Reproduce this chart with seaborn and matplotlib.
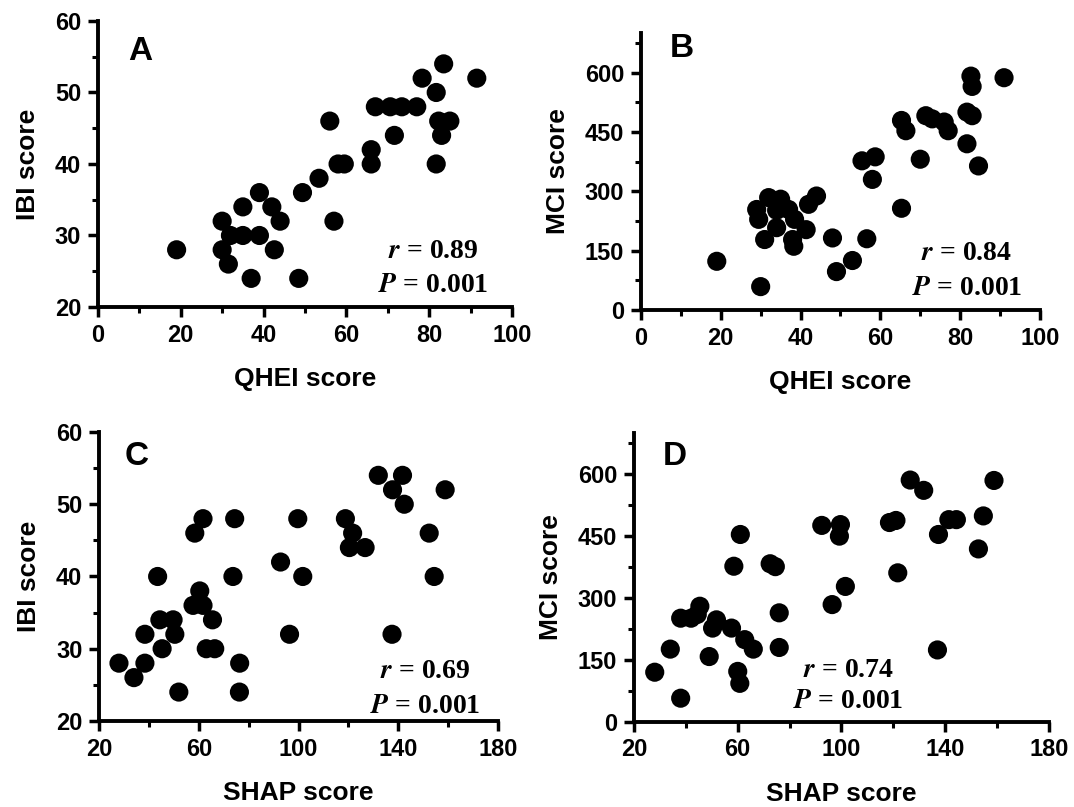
import numpy as np
import pandas as pd
import matplotlib
matplotlib.use("Agg")
import matplotlib.pyplot as plt
import seaborn as sns
from matplotlib.ticker import MultipleLocator, FixedLocator

# ---- data ----
# A: QHEI vs IBI
qhei_a = [19, 30, 30, 31.5, 32, 35, 35, 37, 39, 39, 42, 42.6, 44, 48.5, 49.4, 53.4,
          56, 57, 58, 59.5, 66, 66, 67, 70.6, 71.6, 73.4, 77, 78.3, 81.7, 81.7,
          82.3, 83, 83.5, 85, 91.5]
ibi_a = [28, 32, 28, 26, 30, 34, 30, 24, 36, 30, 34, 28, 32, 24, 36, 38,
         46, 32, 40, 40, 42, 40, 48, 48, 44, 48, 48, 52, 50, 40,
         46, 44, 54, 46, 52]

# B: QHEI vs MCI
qhei_b = [19, 30, 29, 29.5, 32, 31, 34, 35, 34, 37, 38.5, 38, 38.3, 41.4, 42, 44,
          48, 49, 53, 55.4, 56.6, 58.7, 58, 65.3, 66.4, 65.3, 70, 71.4, 73, 76,
          77, 81.7, 81.7, 83, 82.7, 83, 84.6, 91]
mci_b = [123, 59, 254, 229, 284, 178, 208, 280, 252, 254, 229, 178, 161, 203, 267, 288,
         182, 97, 125, 377, 180, 387, 330, 479, 453, 257, 381, 491, 483, 475,
         453, 420, 500, 491, 591, 565, 364, 587]

# C: SHAP vs IBI
shap_c = [28, 34, 38.4, 38.4, 43.5, 44.4, 45.3, 49.7, 50.4, 52, 57.7, 58.4, 60.4,
          61.7, 61.7, 63, 65.5, 66.4, 73.7, 74.4, 76.4, 76.3, 92.8, 96.4, 99.7,
          101.7, 118.8, 121.7, 120.4, 126.7, 132, 137.7, 137.5, 141.7, 142.4,
          152.4, 154.4, 158.8]
ibi_c = [28, 26, 28, 32, 40, 34, 30, 34, 32, 24, 36, 46, 38,
         48, 36, 30, 34, 30, 40, 48, 28, 24, 42, 32, 48,
         40, 48, 46, 44, 44, 54, 52, 32, 54, 50,
         46, 40, 52]

# D: SHAP vs MCI
shap_d = [28, 34, 38, 38, 42, 45.4, 44.4, 51.8, 50.3, 49, 57.6, 58.5, 60, 60.8,
          61, 62.7, 66, 72.5, 74.5, 76, 76, 92.4, 96.4, 99.6, 99.2, 101.5,
          118.5, 121, 121.7, 126.5, 131.7, 137, 137.4, 141.4, 144.3, 152.8,
          154.7, 158.8]
mci_d = [120, 176, 57, 251, 251, 280, 260, 247, 227, 158, 227, 377, 122, 93,
         454, 199, 176, 383, 376, 264, 180, 476, 284, 478, 450, 328,
         483, 488, 361, 586, 561, 174, 454, 490, 490, 419,
         499, 585]

stats_r = ["0.89", "0.84", "0.69", "0.74"]
panel_letters = ["A", "B", "C", "D"]
qhei_ticks = [0, 20, 40, 60, 80, 100]
shap_ticks = [20, 60, 100, 140, 180]
ibi_ticks = [20, 30, 40, 50, 60]
mci_ticks = [0, 150, 300, 450, 600]

sns.set_style("ticks")
plt.rcParams['font.family'] = ['Liberation Sans', 'DejaVu Sans']
plt.rcParams['mathtext.fontset'] = 'stix'
plt.rcParams['text.color'] = 'black'
plt.rcParams['axes.labelcolor'] = 'black'

fig = plt.figure(figsize=(10.74, 8.07), dpi=100)

# axes rectangles in figure fractions
ax_a = fig.add_axes([0.0912, 0.6196, 0.3855, 0.3544])
ax_b = fig.add_axes([0.5968, 0.6159, 0.3715, 0.3432])
ax_c = fig.add_axes([0.0922, 0.1066, 0.3715, 0.3581])
ax_d = fig.add_axes([0.5903, 0.1057, 0.3864, 0.3577])

panels = [
    (ax_a, qhei_a, ibi_a, "QHEI score", "IBI score", (0, 100), (20, 60), qhei_ticks, 10, ibi_ticks, 5, (0.072, 0.864), (81, 26.8, 22.1)),
    (ax_b, qhei_b, mci_b, "QHEI score", "MCI score", (0, 100), (0, 700), qhei_ticks, 10, mci_ticks, 75, (0.073, 0.914), (81.7, 127, 38)),
    (ax_c, shap_c, ibi_c, "SHAP score", "IBI score", (20, 180), (20, 60), shap_ticks, 20, ibi_ticks, 5, (0.065, 0.886), (150.8, 25.9, 21.1)),
    (ax_d, shap_d, mci_d, "SHAP score", "MCI score", (20, 180), (0, 700), shap_ticks, 20, mci_ticks, 75, (0.07, 0.889), (102.7, 109.5, 32.6)),
]

for i, (ax, xs, ys, xl, yl, xlim, ylim, xt, xmin, yt, ymin, lpos, tpos) in enumerate(panels):
    df = pd.DataFrame({"x": xs, "y": ys})
    sns.scatterplot(data=df, x="x", y="y", ax=ax, s=190, color="black",
                    edgecolor="none", linewidth=0, clip_on=False, zorder=3)
    ax.set_xlim(*xlim)
    ax.set_ylim(*ylim)
    ax.xaxis.set_major_locator(FixedLocator(xt))
    ax.xaxis.set_minor_locator(MultipleLocator(xmin))
    ax.yaxis.set_major_locator(FixedLocator(yt))
    ax.yaxis.set_minor_locator(MultipleLocator(ymin))
    sns.despine(ax=ax)
    for sp in ["left", "bottom"]:
        ax.spines[sp].set_linewidth(2.8)
        ax.spines[sp].set_color("black")
    ax.tick_params(which="major", direction="out", length=7, width=2.5, pad=5,
                   labelsize=17, colors="black")
    ax.tick_params(which="minor", direction="out", length=4.5, width=2.2, colors="black")
    for lab in ax.get_xticklabels() + ax.get_yticklabels():
        lab.set_fontweight("bold")
    ax.set_xlabel(xl, fontsize=19, fontweight="bold", labelpad=15)
    ax.set_ylabel(yl, fontsize=19, fontweight="bold", labelpad=11)
    ax.text(lpos[0], lpos[1], panel_letters[i], transform=ax.transAxes,
            fontsize=24, fontweight="bold", va="baseline", ha="left")
    ax.text(tpos[0], tpos[1], r"$\mathbfit{r}$ = " + stats_r[i], ha="center", va="baseline",
            fontsize=20, fontweight="bold", family="Liberation Serif")
    ax.text(tpos[0], tpos[2], r"$\mathbfit{P}$ = 0.001", ha="center", va="baseline",
            fontsize=20, fontweight="bold", family="Liberation Serif")

fig.savefig("out.png", dpi=100)
